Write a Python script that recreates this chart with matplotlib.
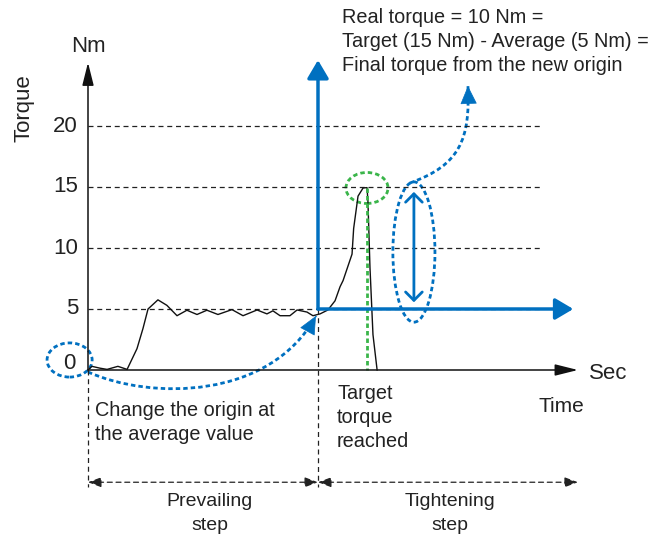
import matplotlib.pyplot as plt
from matplotlib.patches import Ellipse, PathPatch
from matplotlib.path import Path

plt.rcParams['font.family'] = ['Liberation Sans', 'DejaVu Sans']

# torque curve (time in s, torque in Nm)
time = [0.0, 0.17, 0.52, 0.83, 1.30, 1.70, 2.13, 2.39, 2.61, 3.04, 3.43, 3.87,
        4.30, 4.74, 5.17, 5.65, 6.26, 6.74, 7.35, 7.78, 8.04, 8.35, 8.78, 9.09,
        9.52, 9.78, 10.09, 10.43, 10.74, 10.96, 11.09, 11.48, 11.55, 11.74,
        11.96, 12.13, 12.17, 12.26, 12.39, 12.57]
torque = [0.0, 0.3, 0.15, 0.05, 0.3, 0.05, 1.75, 3.4, 5.0, 5.75, 5.3, 4.45,
          4.9, 4.55, 4.9, 4.55, 4.95, 4.45, 4.92, 4.6, 4.85, 4.45, 4.45, 4.92,
          4.75, 4.45, 4.6, 4.92, 5.67, 6.83, 7.33, 9.5, 11.6, 14.25,
          14.92, 14.95, 13.9, 8.4, 2.9, 0.0]
grid_levels = [5, 10, 15, 20]
tick_labels = ['5', '10', '15', '20']
average = 5
target = 15
t_new_origin = 10
t_target = 12.13

top_lines = ['Real torque = 10 Nm =', 'Target (15 Nm) - Average (5 Nm) =',
             'Final torque from the new origin']
origin_lines = ['Change the origin at', 'the average value']
target_lines = ['Target', 'torque', 'reached']

blue = '#0070c0'
green = '#3ab54a'
ink = '#222222'
dots = (0, (1.6, 1.1))
dash = (0, (4, 3))

fig = plt.figure(figsize=(6.68, 5.35), dpi=100)
ax = fig.add_axes([0, 0, 1, 1])
# x: 23 px per s, origin at px 88 ; y: 12.2 px per Nm, origin at px 370
ax.set_xlim(-88 / 23, 580 / 23)
ax.set_ylim((370 - 535) / 12.2, 370 / 12.2)
ax.axis('off')


def arrow(p0, p1, style, ms=10, **kw):
    ax.annotate('', xy=p1, xytext=p0,
                arrowprops=dict(arrowstyle=style, mutation_scale=ms,
                                shrinkA=0, shrinkB=0, **kw))


# grid
for g, lab in zip(grid_levels, tick_labels):
    ax.plot([0, 19.8], [g, g], color=ink, lw=0.9, ls=dash)
    ax.text(-0.43, g, lab, fontsize=16, ha='right', va='center', color=ink)
ax.text(-0.55, 0.5, '0', fontsize=16, ha='right', va='center', color=ink)

# black axes
arrow((0, 0), (0, 25.2), '-|>,head_length=1.4,head_width=0.35', color='#111111', lw=1.1)
arrow((0, 0), (21.3, 0), '-|>,head_length=1.4,head_width=0.35', color='#111111', lw=1.1)
ax.text(0, 26.07, 'Nm', fontsize=16, ha='center', va='baseline', color=ink)
ax.text(-2.78, 21.5, 'Torque', fontsize=16, rotation=90, ha='center', va='center',
        color=ink)
ax.text(21.8, -0.74, 'Sec', fontsize=16, ha='left', va='baseline', color=ink)
ax.text(20.6, -3.44, 'Time', fontsize=15, ha='center', va='baseline', color=ink)

# torque curve
ax.plot(time, torque, color='#111111', lw=1.0)

# vertical dashed separators and step arrows
ax.plot([0, 0], [0, -9.6], color=ink, lw=0.9, ls=dash)
ax.plot([t_new_origin, t_new_origin], [average, -9.6], color=ink, lw=0.9, ls=dash)
for a, b in [(0, t_new_origin), (t_new_origin, 21.3)]:
    arrow((a, -9.2), (b, -9.2), '<|-|>,head_length=0.8,head_width=0.3',
          color=ink, lw=0.9, ls=dash)
ax.text(5.3, -11.15, 'Prevailing', fontsize=14, ha='center', va='baseline', color=ink)
ax.text(5.3, -13.11, 'step', fontsize=14, ha='center', va='baseline', color=ink)
ax.text(15.75, -11.15, 'Tightening', fontsize=14, ha='center', va='baseline', color=ink)
ax.text(15.75, -13.11, 'step', fontsize=14, ha='center', va='baseline', color=ink)

# new origin (blue axes)
arrow((t_new_origin, average), (t_new_origin, 25.4),
      '-|>,head_length=1.1,head_width=0.65', color=blue, lw=2.5)
arrow((t_new_origin, average), (21.1, average),
      '-|>,head_length=1.1,head_width=0.65', color=blue, lw=2.5)

# real torque double arrow
arrow((14.17, average + 0.55), (14.17, target - 0.4),
      '<->,head_length=0.6,head_width=0.6', color=blue, lw=2.0)
ax.add_patch(Ellipse((14.17, 9.67), 1.83, 11.5, fill=False, ec=blue, lw=2.0, ls=dots))
ax.add_patch(Ellipse((-0.8, 0.82), 1.96, 2.8, fill=False, ec=blue, lw=2.0, ls=dots))

# target reached
ax.add_patch(Ellipse((t_target, 14.92), 1.83, 2.54, fill=False, ec=green, lw=2.0,
                     ls=dots))
ax.plot([t_target, t_target], [14.9, 0], color=green, lw=2.0, ls=dots)

# curved dotted arrows (bezier path + solid head on the end tangent)
curves = [[(0, -0.16), (2.7, -2.46), (7.91, -2.46), (9.91, 4.43)],
          [(14.0, 15.33), (16.17, 16.8), (16.61, 18.85), (16.52, 23.28)]]
for pts in curves:
    ax.add_patch(PathPatch(Path(pts[:3] + [pts[3]],
                                [Path.MOVETO, Path.CURVE4, Path.CURVE4, Path.CURVE4]),
                           fill=False, ec=blue, lw=2.0, ls=dots))
    (x2, y2), (x3, y3) = pts[2], pts[3]
    arrow((x3 - 0.05 * (x3 - x2), y3 - 0.05 * (y3 - y2)), (x3, y3),
          '-|>,head_length=1.2,head_width=0.55', color=blue, lw=0.5)

# texts
for i, line in enumerate(top_lines):
    ax.text(11.04, 28.44 - 1.965 * i, line, fontsize=14.3, ha='left',
            va='baseline', color=ink)
for i, line in enumerate(origin_lines):
    ax.text(0.30, -3.77 - 1.97 * i, line, fontsize=14.3, ha='left',
            va='baseline', color=ink)
for i, line in enumerate(target_lines):
    ax.text(10.83, -2.38 - 1.965 * i, line, fontsize=14.3, ha='left',
            va='baseline', color=ink)

fig.savefig('out.png', dpi=100)
